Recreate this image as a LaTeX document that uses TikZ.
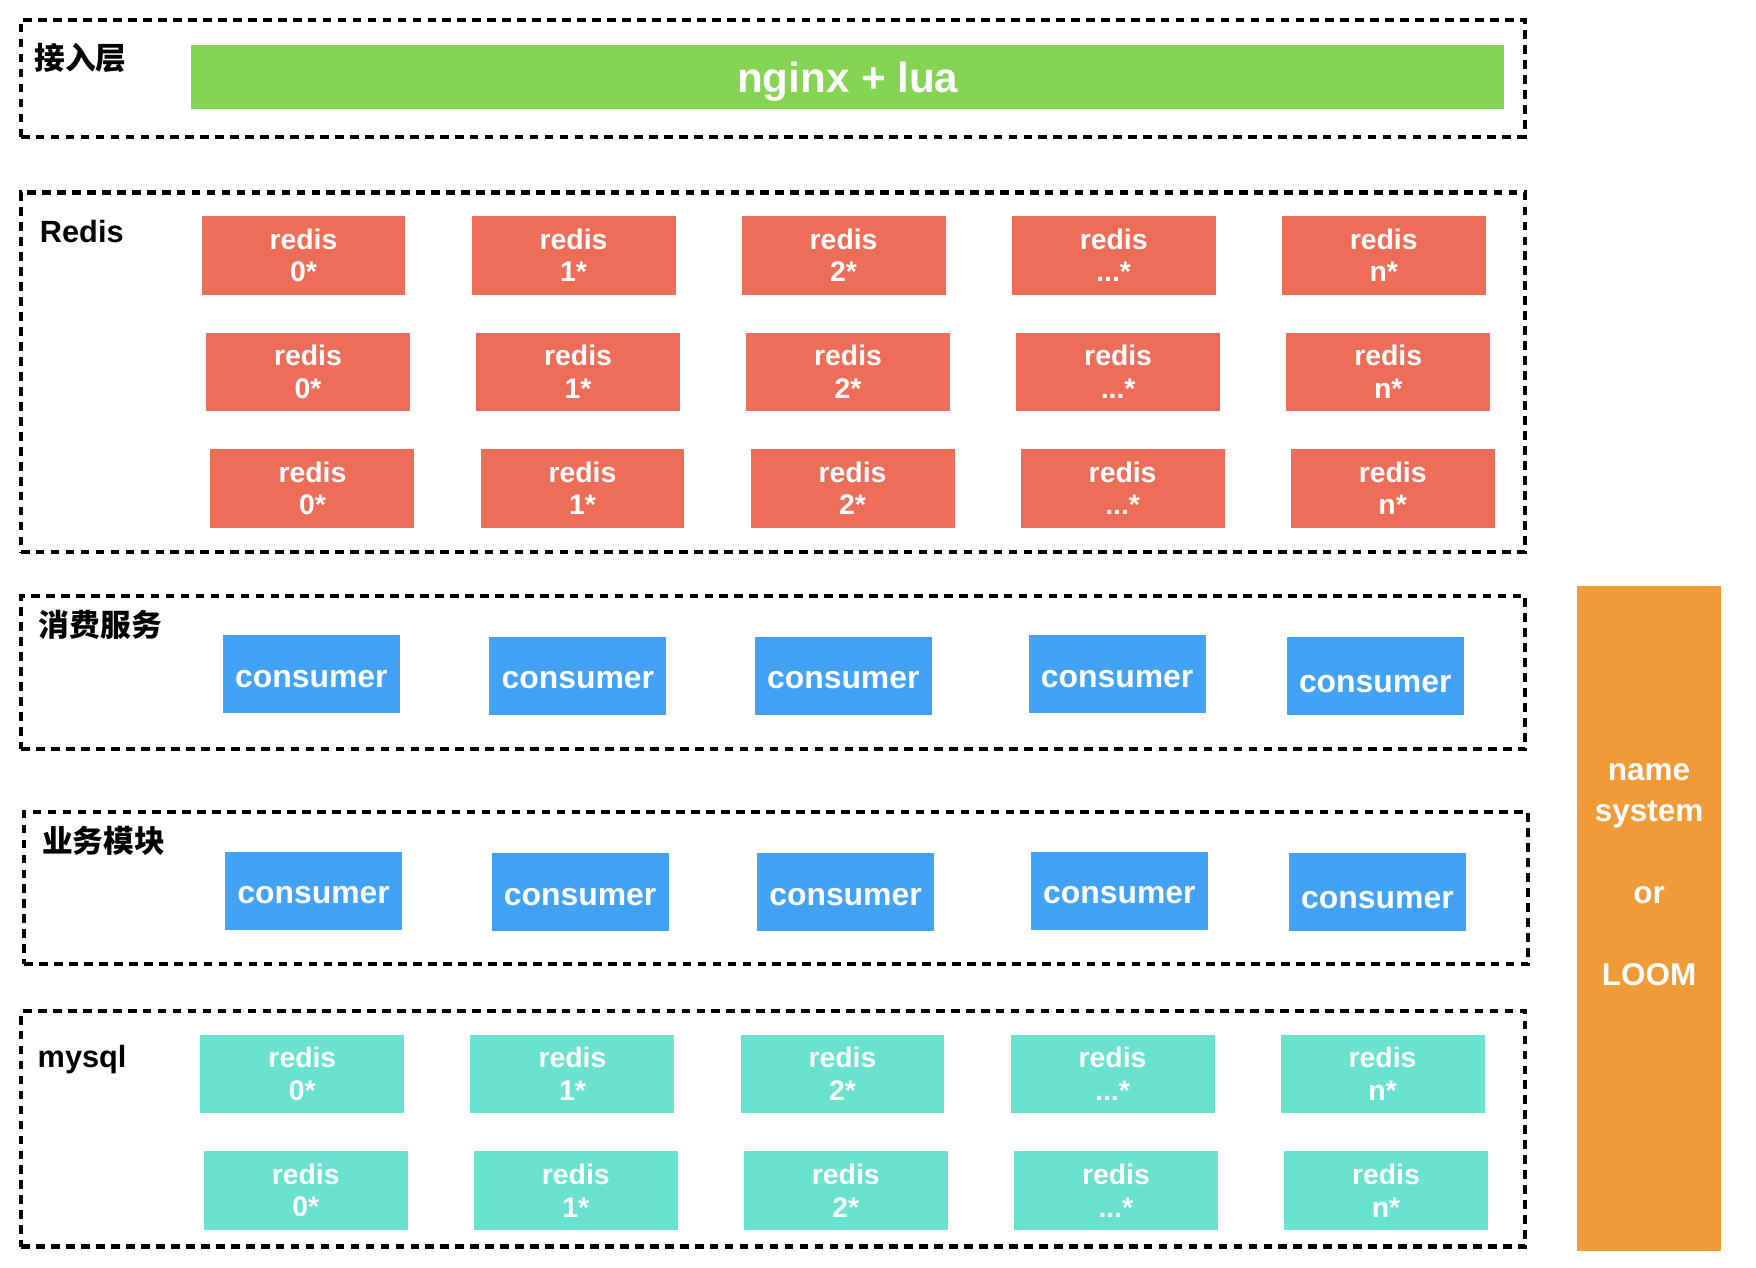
\documentclass[tikz,border=0pt]{standalone}
\usepackage{fontspec}
\setmainfont{Liberation Sans}
\newfontfamily\cjk{Noto Sans CJK SC}
\usepackage{tikz}
\usetikzlibrary{arrows,positioning}
\definecolor{nginxgreen}{HTML}{85D454}
\definecolor{redisred}{HTML}{EE6D59}
\definecolor{consumerblue}{HTML}{42A2F5}
\definecolor{mysqlteal}{HTML}{69E2CF}
\definecolor{nsorange}{HTML}{F19A38}

\begin{document}
\begin{tikzpicture}[x=0.01cm,y=-0.01cm,node distance=2.41cm,on grid,
    tier/.style={draw,dash pattern=on 2.2pt off 1.6pt,line width=1.05pt,inner sep=0pt,minimum width=13.42cm},
    tierlbl/.style={anchor=west,inner sep=0pt,font=\fontsize{7.8}{9}\selectfont\bfseries},
    redis/.style={fill=redisred,text=white,inner sep=0pt,minimum width=1.82cm,minimum height=0.70cm,align=center,font=\fontsize{7.2}{8.3}\selectfont\bfseries},
    mysql/.style={redis,fill=mysqlteal},
    consumer/.style={fill=consumerblue,text=white,inner sep=0pt,minimum width=1.58cm,minimum height=0.70cm,
        text height=6.6pt,text depth=0pt,font=\fontsize{8.1}{9}\selectfont\bfseries}]

        \useasboundingbox (0,0) rectangle (1568,1132);

        % frames
        \node[tier,minimum height=1.04cm] (access) at (690,70) {};
        \node[tier,minimum height=3.21cm] (cache) at (690,332.5) {};
        \node[tier,minimum height=1.37cm] (consume) at (690.5,600.5) {};
        \node[tier,minimum height=1.36cm] (biz) at (693,793) {};
        \node[tier,minimum height=2.10cm] (store) at (690.5,1008) {};

        \node[tierlbl] (accesslbl) at (30,52) {\cjk\bfseries 接入层};
        \node[tierlbl] (cachelbl) at (35,207) {Redis};
        \node[tierlbl] (consumelbl) at (34,558) {\cjk\bfseries 消费服务};
        \node[tierlbl] (bizlbl) at (37,751) {\cjk\bfseries 业务模块};
        \node[tierlbl] (storelbl) at (33,946) {mysql};

        % access layer
        \node[fill=nginxgreen,text=white,minimum width=11.72cm,minimum height=0.57cm,inner sep=0pt,
            text height=10pt,text depth=2.2pt,font=\fontsize{10.7}{12}\selectfont\bfseries] (nginx) at (757,68.5) {nginx + lua};

        % redis
        \node[redis] (r11) at (271,228) {redis\\0*};
        \node[redis] (r12) [right of=r11] {redis\\1*};
        \node[redis] (r13) [right of=r12] {redis\\2*};
        \node[redis] (r14) [right of=r13] {redis\\...*};
        \node[redis] (r15) [right of=r14] {redis\\n*};

        \node[redis] (r21) at (275,332) {redis\\0*};
        \node[redis] (r22) [right of=r21] {redis\\1*};
        \node[redis] (r23) [right of=r22] {redis\\2*};
        \node[redis] (r24) [right of=r23] {redis\\...*};
        \node[redis] (r25) [right of=r24] {redis\\n*};

        \node[redis] (r31) at (279,436) {redis\\0*};
        \node[redis] (r32) [right of=r31] {redis\\1*};
        \node[redis] (r33) [right of=r32] {redis\\2*};
        \node[redis] (r34) [right of=r33] {redis\\...*};
        \node[redis] (r35) [right of=r34] {redis\\n*};

        % consumers
        \node[consumer] (c11) at (278,602) {consumer};
        \node[consumer] (c12) at (516,603.5) {consumer};
        \node[consumer] (c13) at (753,603.5) {consumer};
        \node[consumer] (c14) at (997.5,602) {consumer};
        \node[consumer,text height=8.2pt] (c15) at (1228,603.5) {consumer};

        \node[consumer] (c21) at (280,795.5) {consumer};
        \node[consumer] (c22) at (518,796.5) {consumer};
        \node[consumer] (c23) at (755,796.5) {consumer};
        \node[consumer] (c24) at (999.5,795.5) {consumer};
        \node[consumer,text height=8.2pt] (c25) at (1230,796.5) {consumer};

        % mysql
        \node[mysql] (m11) at (270,959) {redis\\0*};
        \node[mysql] (m12) [right of=m11] {redis\\1*};
        \node[mysql] (m13) [right of=m12] {redis\\2*};
        \node[mysql] (m14) [right of=m13] {redis\\...*};
        \node[mysql] (m15) [right of=m14] {redis\\n*};

        \node[mysql] (m21) at (273,1063) {redis\\0*};
        \node[mysql] (m22) [right of=m21] {redis\\1*};
        \node[mysql] (m23) [right of=m22] {redis\\2*};
        \node[mysql] (m24) [right of=m23] {redis\\...*};
        \node[mysql] (m25) [right of=m24] {redis\\n*};

        % name system
        \node[fill=nsorange,minimum width=1.29cm,minimum height=5.94cm,inner sep=0pt] (ns) at (1472.5,820) {};
        \node[text=white,align=center,inner sep=0pt,font=\fontsize{8}{10.4}\selectfont\bfseries] (nslbl) at (1472.5,781)
            {name\\system\\[10.4pt]or\\[10.4pt]LOOM};

    \end{tikzpicture}
\end{document}
